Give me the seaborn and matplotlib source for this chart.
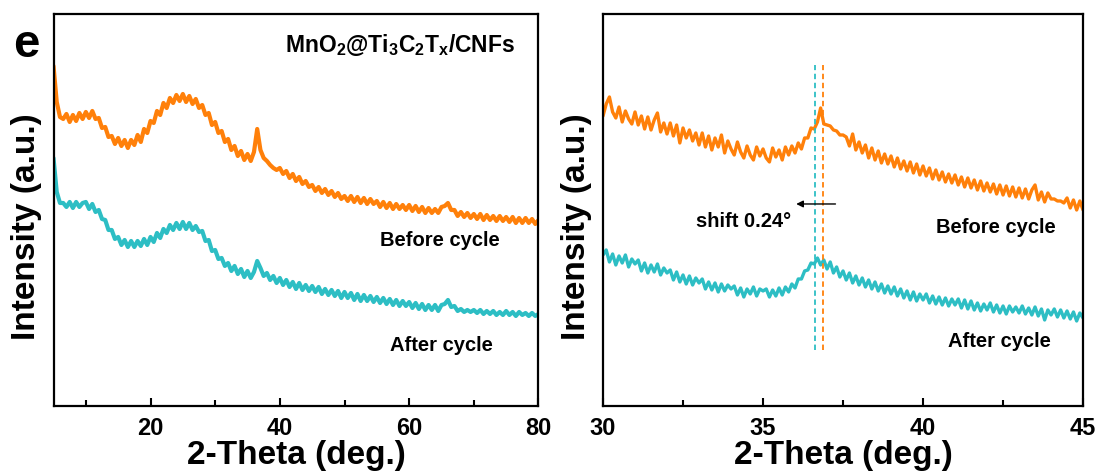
import numpy as np
import pandas as pd
import seaborn as sns
import matplotlib.pyplot as plt

# 2-theta grids
theta_full = np.arange(5, 80.01, 0.5)
theta_zoom = np.arange(30, 45.001, 0.1)

# full range (a.u.)
before_full = [
    340, 304, 289, 287, 292, 284, 291, 285, 293, 287,
    294, 288, 295, 287, 288, 278, 279, 269, 270, 262,
    268, 260, 266, 258, 266, 261, 271, 264, 277, 273,
    285, 283, 295, 291, 303, 298, 308, 303, 311, 305,
    312, 304, 310, 302, 307, 298, 301, 291, 293, 281,
    284, 273, 275, 264, 267, 256, 260, 250, 255, 246,
    252, 245, 254, 277, 256, 248, 245, 241, 238, 236,
    238, 232, 235, 228, 232, 225, 229, 222, 225, 219,
    221, 215, 219, 213, 217, 211, 215, 209, 213, 207,
    210, 205, 210, 204, 209, 203, 208, 202, 207, 202,
    205, 199, 204, 198, 203, 197, 202, 197, 201, 196,
    201, 195, 200, 194, 199, 193, 198, 193, 197, 193,
    199, 200, 203, 196, 196, 190, 194, 189, 193, 188,
    192, 187, 192, 186, 191, 186, 190, 185, 190, 185,
    189, 184, 189, 183, 188, 183, 188, 183, 187, 182,
    186]
after_full = [
    248, 214, 203, 203, 199, 204, 198, 204, 199, 203,
    204, 197, 202, 194, 196, 187, 186, 176, 176, 167,
    169, 161, 166, 159, 165, 159, 165, 160, 167, 161,
    169, 164, 173, 168, 177, 173, 181, 176, 183, 177,
    184, 177, 183, 176, 180, 174, 175, 165, 166, 155,
    156, 147, 148, 140, 143, 135, 140, 132, 137, 129,
    135, 128, 134, 145, 138, 130, 133, 126, 130, 123,
    128, 121, 126, 119, 124, 117, 123, 116, 121, 115,
    120, 114, 119, 112, 117, 111, 116, 110, 115, 108,
    114, 108, 113, 106, 112, 105, 111, 105, 110, 104,
    109, 103, 108, 102, 107, 101, 106, 100, 105, 100,
    104, 98, 103, 97, 102, 96, 101, 96, 101, 95,
    101, 102, 106, 99, 100, 95, 97, 94, 96, 94,
    96, 93, 96, 92, 95, 92, 95, 91, 94, 91,
    95, 91, 94, 90, 94, 91, 93, 90, 93, 90,
    92]

# 30-45 deg detail
before_zoom = [
    290, 302, 309, 294, 288, 299, 284, 295, 287, 282,
    294, 281, 290, 277, 289, 276, 286, 293, 274, 283,
    272, 283, 270, 281, 263, 278, 268, 276, 265, 273,
    261, 273, 259, 270, 256, 268, 259, 271, 253, 265,
    257, 251, 264, 254, 248, 260, 251, 246, 259, 250,
    257, 248, 244, 258, 249, 256, 246, 259, 251, 260,
    253, 263, 257, 268, 268, 278, 277, 284, 298, 282,
    281, 280, 276, 275, 271, 271, 269, 260, 272, 256,
    264, 253, 261, 248, 258, 246, 255, 243, 252, 242,
    250, 239, 248, 237, 245, 235, 244, 233, 242, 231,
    240, 230, 238, 227, 236, 226, 234, 224, 232, 223,
    231, 221, 229, 219, 228, 218, 226, 216, 225, 215,
    223, 214, 222, 212, 221, 211, 220, 210, 219, 209,
    218, 208, 217, 207, 216, 221, 206, 214, 204, 213,
    207, 207, 205, 205, 203, 208, 198, 206, 196, 205,
    196]
after_zoom = [
    151, 156, 144, 152, 141, 150, 143, 151, 139, 147,
    142, 146, 135, 143, 133, 141, 134, 142, 131, 138,
    133, 136, 126, 134, 124, 131, 122, 130, 121, 128,
    123, 127, 117, 124, 116, 123, 114, 122, 115, 121,
    117, 120, 111, 118, 109, 117, 112, 119, 110, 117,
    115, 117, 109, 116, 110, 118, 111, 119, 114, 122,
    118, 127, 127, 135, 136, 143, 142, 148, 141, 146,
    137, 144, 133, 139, 129, 135, 126, 133, 123, 130,
    121, 128, 119, 126, 117, 124, 115, 122, 113, 120,
    112, 119, 110, 117, 108, 115, 106, 114, 105, 112,
    106, 112, 103, 110, 102, 109, 101, 108, 100, 107,
    101, 107, 98, 106, 97, 105, 96, 103, 95, 102,
    96, 103, 94, 101, 93, 100, 92, 100, 94, 99,
    93, 100, 92, 98, 91, 99, 90, 97, 86, 96,
    91, 97, 89, 96, 88, 95, 87, 94, 85, 93,
    88]

peak_after = 36.62
peak_before = 36.86

orange = "#ff800a"
cyan = "#2dbec4"

sns.set_theme(style="ticks")
plt.rcParams["font.family"] = ["Liberation Sans", "DejaVu Sans"]
plt.rcParams["font.weight"] = "bold"
plt.rcParams["text.color"] = "black"
plt.rcParams["axes.labelcolor"] = "black"
plt.rcParams["axes.edgecolor"] = "black"
plt.rcParams["xtick.color"] = "black"
plt.rcParams["mathtext.fontset"] = "custom"
plt.rcParams["mathtext.rm"] = "Liberation Sans:bold"
plt.rcParams["mathtext.bf"] = "Liberation Sans:bold"
plt.rcParams["mathtext.it"] = "Liberation Sans:bold"

df_full = pd.DataFrame({"theta": theta_full, "before": before_full, "after": after_full})
df_zoom = pd.DataFrame({"theta": theta_zoom, "before": before_zoom, "after": after_zoom})

fig = plt.figure(figsize=(11.01, 4.74), dpi=100)
ax1 = fig.add_axes([0.0486, 0.1435, 0.4405, 0.827])
ax2 = fig.add_axes([0.5477, 0.1435, 0.436, 0.827])

sns.lineplot(data=df_full, x="theta", y="before", color=orange, lw=3.0, ax=ax1)
sns.lineplot(data=df_full, x="theta", y="after", color=cyan, lw=3.0, ax=ax1)
sns.lineplot(data=df_zoom, x="theta", y="before", color=orange, lw=2.4, ax=ax2)
sns.lineplot(data=df_zoom, x="theta", y="after", color=cyan, lw=2.4, ax=ax2)

ax1.set_xlim(5, 80)
ax1.set_xticks([20, 40, 60, 80])
ax1.set_xticks([10, 30, 50, 70], minor=True)
ax2.set_xlim(30, 45)
ax2.set_xticks([30, 35, 40, 45])
ax2.set_xticks([32.5, 37.5, 42.5], minor=True)

for ax in (ax1, ax2):
    ax.set_ylim(0, 392)
    ax.set_yticks([])
    ax.set_xlabel("2-Theta (deg.)", fontsize=24, fontweight="bold", labelpad=0)
    ax.set_ylabel("Intensity (a.u.)", fontsize=24, fontweight="bold")
    ax.tick_params(axis="x", which="major", direction="in", length=6, width=1.5,
                   labelsize=17, pad=8)
    ax.tick_params(axis="x", which="minor", direction="in", length=4, width=1.5)
    for lbl in ax.get_xticklabels():
        lbl.set_fontweight("bold")
    for sp in ax.spines.values():
        sp.set_linewidth(1.6)
        sp.set_visible(True)

ax1.yaxis.set_label_coords(-0.024, 0.457)
ax2.yaxis.set_label_coords(-0.022, 0.457)

ax1.text(58.6, 361, r"MnO$_{2}$@Ti$_{3}$C$_{2}$T$_{x}$/CNFs", fontsize=16.5,
         fontweight="bold", ha="center", va="center")
ax1.text(64.7, 165, "Before cycle", fontsize=14.5, fontweight="bold", ha="center", va="center")
ax1.text(65.0, 60, "After cycle", fontsize=14.5, fontweight="bold", ha="center", va="center")
fig.text(0.024, 0.905, "e", fontsize=34, fontweight="bold", ha="center", va="center")

ax2.vlines(peak_after, 56, 341, colors=cyan, linestyles=(0, (3, 2)), lw=1.3)
ax2.vlines(peak_before, 56, 341, colors=orange, linestyles=(0, (3, 2)), lw=1.3)
ax2.annotate("", xy=(35.95, 202), xytext=(37.35, 202),
             arrowprops=dict(arrowstyle="-|>", color="black", lw=1.0, mutation_scale=10))
ax2.text(34.4, 184, "shift 0.24°", fontsize=14.5, fontweight="bold", ha="center", va="center")
ax2.text(42.28, 178, "Before cycle", fontsize=14.5, fontweight="bold", ha="center", va="center")
ax2.text(42.38, 64, "After cycle", fontsize=14.5, fontweight="bold", ha="center", va="center")

fig.savefig("out.png", dpi=100)
